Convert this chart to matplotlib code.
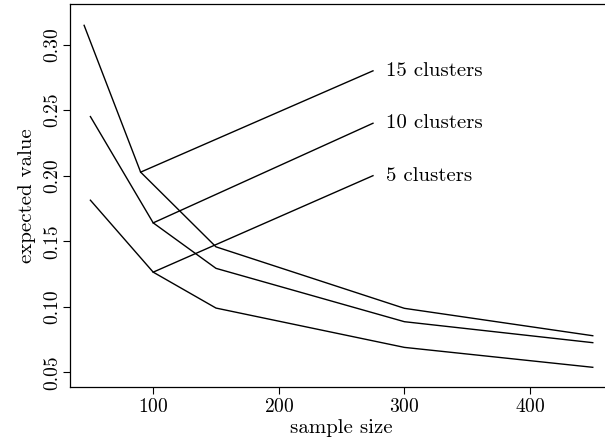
import numpy as np
import matplotlib
matplotlib.use("Agg")
import matplotlib.pyplot as plt

# expected value vs sample size, by number of clusters
n15 = [45, 90, 150, 300, 450]
ev15 = [0.3147, 0.2027, 0.1457, 0.0988, 0.0779]
n10 = [50, 100, 150, 300, 450]
ev10 = [0.2451, 0.164, 0.1293, 0.0886, 0.0726]
n5 = [50, 100, 150, 300, 450]
ev5 = [0.1813, 0.1264, 0.099, 0.069, 0.0538]

labels = ["15 clusters", "10 clusters", "5 clusters"]
label_x = 275
label_y = [0.28, 0.24, 0.20]

plt.rcParams["font.family"] = ["cmr10", "DejaVu Serif"]
plt.rcParams["axes.formatter.use_mathtext"] = True

fig = plt.figure(figsize=(6.05, 4.42), dpi=100)
ax = fig.add_axes([0.1162, 0.1251, 1.013 - 0.1162, 0.991 - 0.1251])

for x, y in [(n15, ev15), (n10, ev10), (n5, ev5)]:
    ax.plot(x, y, color="black", lw=1.0)

# pointer lines from the 2nd point of each curve to its label
starts = [(n15[1], ev15[1]), (n10[1], ev10[1]), (n5[1], ev5[1])]
for (sx, sy), ly, lab in zip(starts, label_y, labels):
    ax.plot([sx, label_x], [sy, ly], color="black", lw=1.0)
    ax.text(label_x + 10, ly, lab, fontsize=15, va="center", ha="left")

ax.set_xlim(34, 466)
ax.set_ylim(0.039, 0.331)
ax.set_xticks([100, 200, 300, 400])
ax.set_yticks([0.05, 0.10, 0.15, 0.20, 0.25, 0.30])
ax.set_yticklabels(["0.05", "0.10", "0.15", "0.20", "0.25", "0.30"],
                   rotation=90, va="center")
ax.tick_params(direction="out", length=5, width=0.8, labelsize=14, pad=3)
ax.tick_params(axis="y", pad=1.5)
ax.set_xlabel("sample size", fontsize=15, labelpad=2)
ax.set_ylabel("expected value", fontsize=15, labelpad=5)

for s in ax.spines.values():
    s.set_linewidth(0.9)

fig.savefig("out.png", dpi=100)
